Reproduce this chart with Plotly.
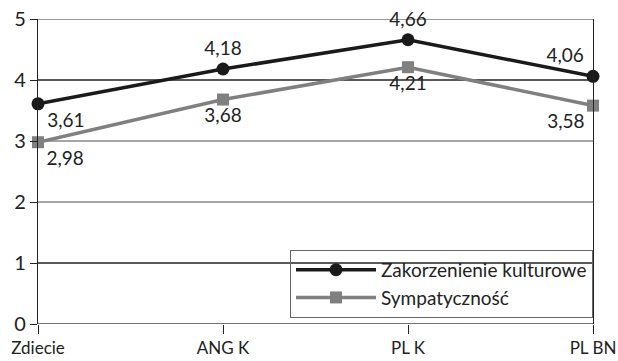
import plotly.graph_objects as go

categories = ["Zdiecie", "ANG K", "PL K", "PL BN"]
zakorzenienie = [3.61, 4.18, 4.66, 4.06]
sympatycznosc = [2.98, 3.68, 4.21, 3.58]
series_names = ["Zakorzenienie kulturowe", "Sympatyczność"]
y_ticks = [0, 1, 2, 3, 4, 5]
grid_colors = ["#444444", "#222222", "#888888", "#888888", "#222222", "#777777"]

def fmt(v):
    return f"{v:.2f}".replace(".", ",")

FONT = "Lato, 'Open Sans', sans-serif"

fig = go.Figure()

for y, c in zip(y_ticks, grid_colors):
    fig.add_shape(type="line", xref="paper", yref="y", x0=0, x1=1, y0=y, y1=y,
                  line=dict(color=c, width=1.3), layer="below")

fig.add_trace(go.Scatter(
    x=categories, y=zakorzenienie, name=series_names[0], mode="lines+markers+text",
    line=dict(color="#1a1a1a", width=3.5),
    marker=dict(symbol="circle", size=13, color="#1a1a1a"),
    text=[fmt(v) for v in zakorzenienie],
    textposition=["bottom right", "top center", "top center", "top left"],
    textfont=dict(family=FONT, size=19, color="#222222"),
    cliponaxis=False,
))
fig.add_trace(go.Scatter(
    x=categories, y=sympatycznosc, name=series_names[1], mode="lines+markers+text",
    line=dict(color="#808080", width=3.5),
    marker=dict(symbol="square", size=12, color="#808080"),
    text=[fmt(v) for v in sympatycznosc],
    textposition=["bottom right", "bottom center", "bottom center", "bottom left"],
    textfont=dict(family=FONT, size=19, color="#222222"),
    cliponaxis=False,
))

fig.update_layout(
    width=618, height=361,
    margin=dict(l=38, r=25, t=19, b=37, autoexpand=False),
    paper_bgcolor="white", plot_bgcolor="white",
    font=dict(family=FONT, size=17, color="#222222"),
    showlegend=True,
    legend=dict(x=1, y=0.02, xanchor="right", yanchor="bottom",
                bgcolor="rgba(255,255,255,0)", bordercolor="#666666", borderwidth=1,
                font=dict(family=FONT, size=19, color="#222222"),
                itemwidth=80, tracegroupgap=0),
    xaxis=dict(type="category", range=[0, 3], showgrid=False, zeroline=False,
               showline=False, ticks="outside", ticklen=9, tickcolor="#222222",
               tickwidth=1.3, tickfont=dict(size=17), ticklabelstandoff=0,
               automargin=False),
    yaxis=dict(range=[0, 5], tickvals=y_ticks, showgrid=False, zeroline=False,
               showline=True, mirror=True, linecolor="#222222", linewidth=1.3,
               ticks="outside", ticklen=7, tickcolor="#222222", tickwidth=1.3,
               tickfont=dict(size=20), automargin=False),
)

fig.write_html("out.html", config={"displayModeBar": False},
               post_script="document.body.style.margin='0';")
